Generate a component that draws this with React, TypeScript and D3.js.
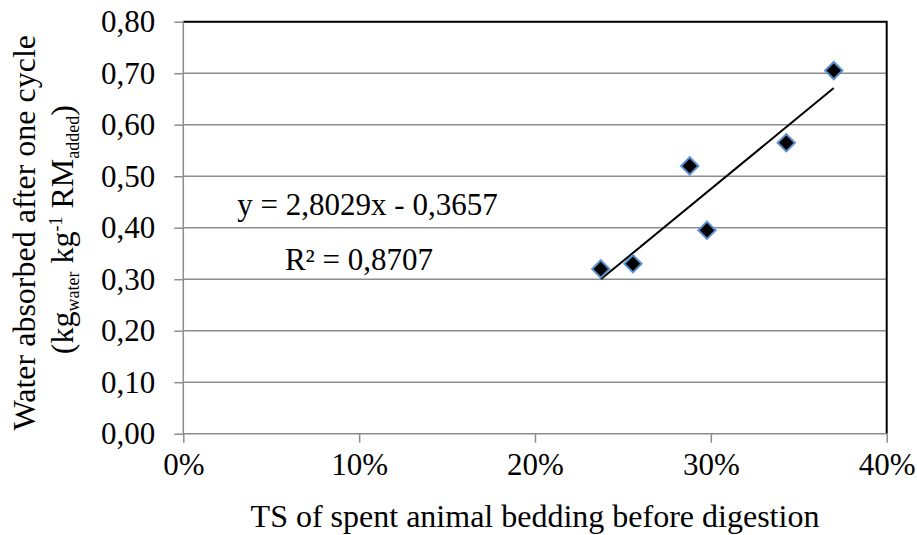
import React, { useEffect, useRef } from "react";
import * as d3 from "d3";

const tsValues = [0.2374, 0.2557, 0.288, 0.2978, 0.3429, 0.3699];
const waterValues = [0.32, 0.33, 0.52, 0.395, 0.565, 0.705];
const yTicks = [0, 0.1, 0.2, 0.3, 0.4, 0.5, 0.6, 0.7, 0.8];
const xTicks = [0, 0.1, 0.2, 0.3, 0.4];
const slope = 2.8029;
const intercept = -0.3657;
const r2 = 0.8707;

const W = 917;
const H = 535;
const M = { left: 183.3, right: 886.7, top: 21.7, bottom: 433.7 };
const FONT = "Liberation Serif, Times New Roman, Times, serif";

export default function App() {
  const ref = useRef<SVGSVGElement | null>(null);

  useEffect(() => {
    const svg = d3.select(ref.current);
    svg.selectAll("*").remove();

    const x = d3.scaleLinear().domain([0, 0.4]).range([M.left, M.right]);
    const y = d3.scaleLinear().domain([0, 0.8]).range([M.bottom, M.top]);
    const fmtY = (v: number) => d3.format(".2f")(v).replace(".", ",");
    const fmtX = (v: number) => d3.format(".0%")(v);

    // gridlines
    svg
      .append("g")
      .selectAll("line")
      .data(yTicks.filter((t) => t > 0))
      .join("line")
      .attr("x1", M.left)
      .attr("x2", M.right)
      .attr("y1", (d) => y(d))
      .attr("y2", (d) => y(d))
      .attr("stroke", "#8c8c8c")
      .attr("stroke-width", 1.5);

    // top & right border
    svg
      .append("path")
      .attr("d", `M${M.left},${M.top}H${M.right}V${M.bottom}`)
      .attr("fill", "none")
      .attr("stroke", "#000")
      .attr("stroke-width", 2);

    // y axis
    const yAxis = d3
      .axisLeft(y)
      .tickValues(yTicks)
      .tickSize(9)
      .tickPadding(19)
      .tickFormat((d) => fmtY(d as number));
    const gy = svg
      .append("g")
      .attr("transform", `translate(${M.left},0)`)
      .call(yAxis)
      .attr("font-family", FONT)
      .attr("font-size", 31);
    gy.select(".domain").attr("stroke", "#8c8c8c").attr("stroke-width", 1.5).attr("d", `M0,${M.top}V${M.bottom}`);
    gy.selectAll(".tick line").attr("stroke", "#8c8c8c").attr("stroke-width", 1.5);
    gy.selectAll(".tick text").style("font-family", FONT).attr("fill", "#000");

    // x axis
    const xAxis = d3
      .axisBottom(x)
      .tickValues(xTicks)
      .tickSize(9)
      .tickPadding(10)
      .tickFormat((d) => fmtX(d as number));
    const gx = svg
      .append("g")
      .attr("transform", `translate(0,${M.bottom})`)
      .call(xAxis)
      .attr("font-family", FONT)
      .attr("font-size", 31);
    gx.select(".domain").attr("stroke", "#8c8c8c").attr("stroke-width", 1.5).attr("d", `M${M.left},0H${M.right}`);
    gx.selectAll(".tick line").attr("stroke", "#8c8c8c").attr("stroke-width", 1.5);
    gx.selectAll(".tick text").style("font-family", FONT).attr("fill", "#000");

    // trendline
    const xr = d3.extent(tsValues) as [number, number];
    const line = d3
      .line<number>()
      .x((d) => x(d))
      .y((d) => y(slope * d + intercept));
    svg
      .append("path")
      .attr("d", line(xr))
      .attr("fill", "none")
      .attr("stroke", "#000")
      .attr("stroke-width", 2);

    // markers
    const sym = d3.symbol().type(d3.symbolSquare).size(150);
    svg
      .append("g")
      .selectAll("path")
      .data(tsValues.map((v, i) => [v, waterValues[i]]))
      .join("path")
      .attr("d", sym() as string)
      .attr("transform", (d) => `translate(${x(d[0])},${y(d[1])}) rotate(45)`)
      .attr("fill", "#000")
      .attr("stroke", "#5b8fd0")
      .attr("stroke-width", 2);

    const txt = svg.append("g").style("font-family", FONT).attr("fill", "#000");

    // equation
    const fmt4 = (v: number) => d3.format(".4f")(Math.abs(v)).replace(".", ",");
    txt
      .append("text")
      .attr("x", 367.5)
      .attr("y", 214.5)
      .attr("text-anchor", "middle")
      .attr("font-size", 31)
      .text(`y = ${fmt4(slope)}x ${intercept < 0 ? "-" : "+"} ${fmt4(intercept)}`);
    txt
      .append("text")
      .attr("x", 359)
      .attr("y", 270)
      .attr("text-anchor", "middle")
      .attr("font-size", 31)
      .text(`R² = ${fmt4(r2)}`);

    // x title
    txt
      .append("text")
      .attr("x", (M.left + M.right) / 2)
      .attr("y", 527)
      .attr("text-anchor", "middle")
      .attr("font-size", 32)
      .text("TS of spent animal bedding before digestion");

    // y title
    const yt = txt
      .append("g")
      .attr("transform", `translate(0,${(M.top + M.bottom) / 2}) rotate(-90)`);
    yt.append("text")
      .attr("x", -5)
      .attr("y", 35)
      .attr("text-anchor", "middle")
      .attr("font-size", 32)
      .text("Water absorbed after one cycle");
    const t2 = yt
      .append("text")
      .attr("x", -2)
      .attr("y", 73)
      .attr("text-anchor", "middle")
      .attr("font-size", 32);
    t2.append("tspan").text("(kg");
    t2.append("tspan").attr("font-size", 18).attr("dy", 6).text("water");
    t2.append("tspan").attr("dy", -6).text(" kg");
    t2.append("tspan").attr("font-size", 18).attr("dy", -11).text("-1");
    t2.append("tspan").attr("dy", 11).text(" RM");
    t2.append("tspan").attr("font-size", 18).attr("dy", 6).text("added");
    t2.append("tspan").attr("dy", -6).text(")");
  }, []);

  return (
    <svg
      ref={ref}
      width={W}
      height={H}
      style={{ position: "absolute", left: 0, top: 0, background: "#fff" }}
    />
  );
}
